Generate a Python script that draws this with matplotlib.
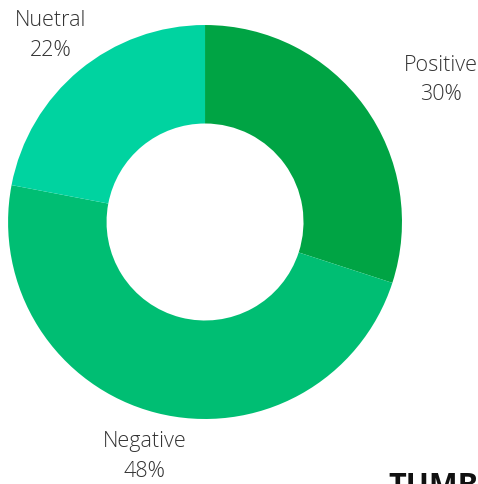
import numpy as np
import matplotlib.pyplot as plt

# Sentiment split
labels = ['Positive', 'Negative', 'Nuetral']
shares = [30, 48, 22]
colors = ['#00a444', '#00be73', '#00d3a0']

fig = plt.figure(figsize=(4.78, 4.84), dpi=100)
ax = fig.add_axes([0, 0, 1, 1])

wedges, _ = ax.pie(shares, colors=colors, startangle=90, counterclock=False,
                   radius=1.0, wedgeprops=dict(width=0.5, linewidth=0))

# labels sit outside each wedge, near its middle angle
label_dist = [1.40, 1.23, 1.23]
angle_nudge = [-5, 0, 0]
for w, name, val, d, nudge in zip(wedges, labels, shares, label_dist, angle_nudge):
    ang = np.deg2rad((w.theta1 + w.theta2) / 2 + nudge)
    ax.text(d * np.cos(ang), d * np.sin(ang), f"{name}\n{val}%",
            ha='center', va='center', fontsize=15.5, color='#333333',
            family='Open Sans', fontweight='light', linespacing=1.55)

ax.set_xlim(-1.041, 1.386)
ax.set_ylim(-1.330, 1.127)
ax.set_aspect('auto')
ax.axis('off')

fig.text(388 / 478, 1 - 495 / 484, 'TUMBLR', fontsize=22, fontweight='bold',
         family='Open Sans', color='#111111', ha='left', va='baseline')

fig.savefig('out.png', dpi=100)
